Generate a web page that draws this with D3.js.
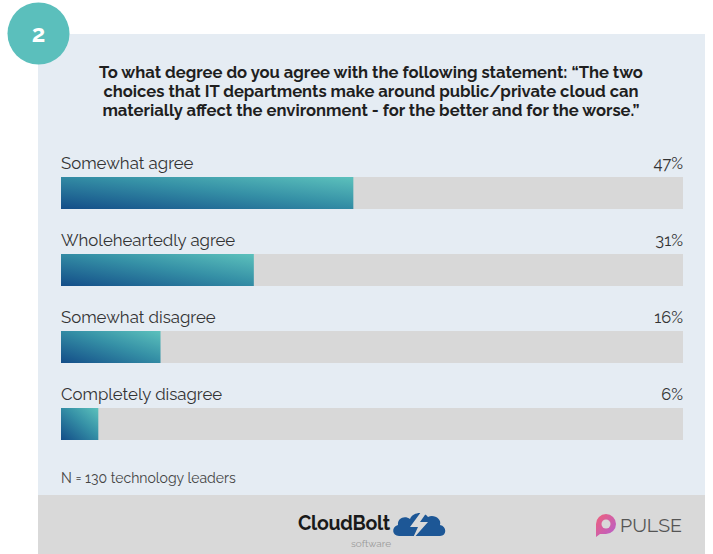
<!DOCTYPE html>
<html>
<head>
<meta charset="utf-8">
<script src="https://cdn.jsdelivr.net/npm/d3@7"></script>
<style>
  html, body { margin: 0; padding: 0; background: #ffffff; }
  svg { display: block; }
</style>
</head>
<body>
<svg id="chart" width="713" height="554"></svg>
<script>
// Survey answers and their shares (percent)
const categories = ["Somewhat agree", "Wholeheartedly agree", "Somewhat disagree", "Completely disagree"];
const values = [47, 31, 16, 6];
const titleLines = [
  "To what degree do you agree with the following statement: \u201cThe two",
  "choices that IT departments make around public/private cloud can",
  "materially affect the environment - for the better and for the worse.\u201d"
];
const note = "N = 130 technology leaders";
const badge = "2";

const svg = d3.select("#chart");
const font = "Raleway, Lato, 'Open Sans', sans-serif";

const defs = svg.append("defs");
const grad = defs.append("linearGradient")
  .attr("id", "barGrad")
  .attr("x1", 0).attr("y1", 1).attr("x2", 1).attr("y2", 0);
grad.append("stop").attr("offset", "0%").attr("stop-color", "#134d88");
grad.append("stop").attr("offset", "55%").attr("stop-color", "#3590a6");
grad.append("stop").attr("offset", "100%").attr("stop-color", "#5cc1bc");

const pulseGrad = defs.append("linearGradient")
  .attr("id", "pulseGrad")
  .attr("x1", 0).attr("y1", 0).attr("x2", 1).attr("y2", 1);
pulseGrad.append("stop").attr("offset", "0%").attr("stop-color", "#f0607a");
pulseGrad.append("stop").attr("offset", "100%").attr("stop-color", "#b45fd0");

// Panel and footer
svg.append("rect").attr("x", 38).attr("y", 34).attr("width", 667).attr("height", 461).attr("fill", "#e5ecf3");
svg.append("rect").attr("x", 38).attr("y", 495).attr("width", 667).attr("height", 59).attr("fill", "#d9d9d9");

// Number badge
svg.append("circle").attr("cx", 38.5).attr("cy", 33.5).attr("r", 31).attr("fill", "#5bbfbc");
svg.append("text").attr("x", 38.5).attr("y", 42).attr("text-anchor", "middle")
  .attr("font-family", font).attr("font-weight", 700).attr("font-size", 24).attr("fill", "#ffffff")
  .text(badge);

// Title
svg.append("g").selectAll("text").data(titleLines).join("text")
  .attr("x", 371).attr("y", (d, i) => 78 + i * 19)
  .attr("text-anchor", "middle")
  .attr("font-family", font).attr("font-weight", 700).attr("font-size", 16.6)
  .attr("fill", "#1f1f1f")
  .text(d => d);

// Scales: band 32px, step 77px
const x = d3.scaleLinear().domain([0, 100]).range([61, 683]);
const y = d3.scaleBand().domain(categories).range([177, 440]).paddingInner(45 / 77).paddingOuter(0);

const rows = svg.append("g").selectAll("g").data(categories).join("g");

rows.append("rect")
  .attr("x", x(0)).attr("y", d => y(d))
  .attr("width", x(100) - x(0)).attr("height", y.bandwidth())
  .attr("fill", "#d8d8d8");

rows.append("rect")
  .attr("x", x(0)).attr("y", d => y(d))
  .attr("width", (d, i) => x(values[i]) - x(0)).attr("height", y.bandwidth())
  .attr("fill", "url(#barGrad)");

rows.append("text")
  .attr("x", x(0)).attr("y", d => y(d) - 8)
  .attr("font-family", font).attr("font-size", 16.8).attr("fill", "#333333")
  .text(d => d);

rows.append("text")
  .attr("x", x(100)).attr("y", d => y(d) - 8)
  .attr("text-anchor", "end")
  .attr("font-family", font).attr("font-size", 16.5).attr("fill", "#333333")
  .text((d, i) => values[i] + "%");

// Sample size note
svg.append("text").attr("x", 61).attr("y", 483)
  .attr("font-family", font).attr("font-size", 14).attr("fill", "#444444")
  .text(note);

// CloudBolt logo
const cb = svg.append("g");
cb.append("text").attr("x", 298).attr("y", 530)
  .attr("font-family", font).attr("font-weight", 700).attr("font-size", 19.5).attr("fill", "#1a1a1a")
  .attr("letter-spacing", -0.3)
  .text("CloudBolt");
cb.append("text").attr("x", 371).attr("y", 547).attr("text-anchor", "middle")
  .attr("font-family", font).attr("font-size", 10).attr("fill", "#9a9a9a")
  .text("software");
cb.append("path")
  .attr("d", "M399,536 C392,536 391,527 398,525 C397,518 405,515 410,519 C413,512 424,511 428,517 C434,514 442,519 440,525 C447,526 447,536 440,536 Z")
  .attr("fill", "#1d5796");
cb.append("path")
  .attr("d", "M421,512 L410,527 L418,527 L412,540 L428,522 L420,522 L427,512 Z")
  .attr("fill", "#d9d9d9");

// Pulse logo
const pl = svg.append("g");
pl.append("path")
  .attr("d", "M596,537 L596,524 A10,10 0 1 1 606,534 L600,534 Z")
  .attr("fill", "url(#pulseGrad)");
pl.append("circle").attr("cx", 606).attr("cy", 524).attr("r", 4.5).attr("fill", "#d9d9d9");
pl.append("text").attr("x", 620).attr("y", 532)
  .attr("font-family", font).attr("font-size", 19.5).attr("fill", "#555555")
  .text("PULSE");
</script>
</body>
</html>
